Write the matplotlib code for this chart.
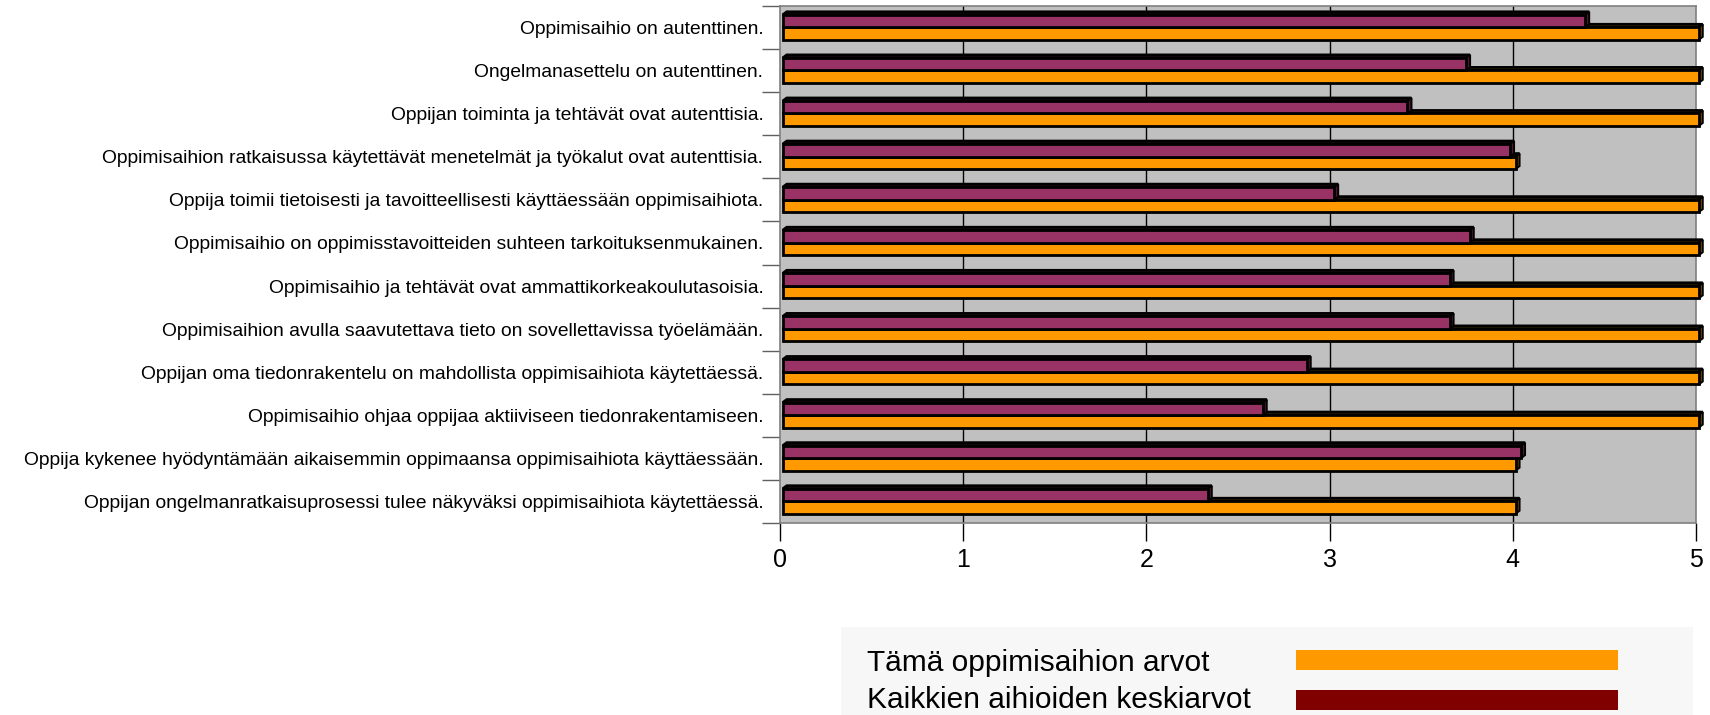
import matplotlib
matplotlib.use("Agg")
import matplotlib.pyplot as plt
from matplotlib.patches import Polygon, Rectangle
import numpy as np

plt.rcParams['font.family'] = ['Liberation Sans', 'DejaVu Sans']

categories = [
    "Oppimisaihio on autenttinen.",
    "Ongelmanasettelu on autenttinen.",
    "Oppijan toiminta ja tehtävät ovat autenttisia.",
    "Oppimisaihion ratkaisussa käytettävät menetelmät ja työkalut ovat autenttisia.",
    "Oppija toimii tietoisesti ja tavoitteellisesti käyttäessään oppimisaihiota.",
    "Oppimisaihio on oppimisstavoitteiden suhteen tarkoituksenmukainen.",
    "Oppimisaihio ja tehtävät ovat ammattikorkeakoulutasoisia.",
    "Oppimisaihion avulla saavutettava tieto on sovellettavissa työelämään.",
    "Oppijan oma tiedonrakentelu on mahdollista oppimisaihiota käytettäessä.",
    "Oppimisaihio ohjaa oppijaa aktiiviseen tiedonrakentamiseen.",
    "Oppija kykenee hyödyntämään aikaisemmin oppimaansa oppimisaihiota käyttäessään.",
    "Oppijan ongelmanratkaisuprosessi tulee näkyväksi oppimisaihiota käytettäessä.",
]
this_values = [5, 5, 5, 4, 5, 5, 5, 5, 5, 5, 4, 4]
avg_values = [4.38, 3.73, 3.41, 3.97, 3.01, 3.75, 3.64, 3.64, 2.86, 2.62, 4.03, 2.32]
series_names = ["Tämä oppimisaihion arvot", "Kaikkien aihioiden keskiarvot"]
x_ticks = [0, 1, 2, 3, 4, 5]

orange = "#FF9900"
purple = "#993366"
orange_dark = "#7F4C00"
purple_dark = "#4C1933"
legend_colors = ["#FF9900", "#800000"]

fig = plt.figure(figsize=(17.1, 7.15), dpi=100)
ax = fig.add_axes([780/1710, 1-523/715, (1696-780)/1710, (523-6)/715])
ax.set_facecolor("#C0C0C0")

n = len(categories)
ypos = np.arange(n)[::-1].astype(float)
h = 0.29
off_p = 0.15
off_o = -0.14
dx = 0.022
dy = 0.07
x0 = 0.015
LW = 2.0

for x in x_ticks[1:-1]:
    ax.axvline(x, color="black", lw=1.0, zorder=1)


def bar3d(y, v, color, dark, z):
    ax.barh([y], [v], height=h, left=x0, color=color, edgecolor="black", lw=LW,
            zorder=z, clip_on=False)
    xe = x0 + v
    yb, yt = y - h/2, y + h/2
    ax.add_patch(Polygon([(x0, yt), (xe, yt), (xe+dx, yt+dy), (x0+dx, yt+dy)], closed=True,
                         facecolor=dark, edgecolor="black", lw=LW, zorder=z-0.1, clip_on=False))
    ax.add_patch(Polygon([(xe, yb), (xe, yt), (xe+dx, yt+dy), (xe+dx, yb+dy)], closed=True,
                         facecolor=dark, edgecolor="black", lw=1.4, zorder=z-0.05, clip_on=False))

for y, v in zip(ypos, this_values):
    bar3d(y + off_o, v, orange, orange_dark, 3)
for y, v in zip(ypos, avg_values):
    bar3d(y + off_p, v, purple, purple_dark, 5)

ax.set_xlim(0, 5)
ax.set_ylim(-0.5, n - 0.5)
ax.set_xticks(x_ticks)
ax.set_xticklabels([str(t) for t in x_ticks], fontsize=18)
ax.tick_params(axis="x", length=13, width=1, color="black", pad=5)
ax.set_yticks(ypos)
ax.set_yticklabels(categories, fontsize=13.9)
ax.tick_params(axis="y", which="major", length=0, pad=12)
ax.set_yticks(np.arange(n + 1) - 0.5, minor=True)
ax.tick_params(axis="y", which="minor", length=13, width=1, color="#606060")
for s in ax.spines.values():
    s.set_color("#808080")
    s.set_linewidth(1.2)

# legend box
leg = Rectangle((841/1710, 0), (1693-841)/1710, (715-627)/715, transform=fig.transFigure,
                facecolor="#F7F7F7", edgecolor="none", zorder=0)
fig.patches.append(leg)
swatch_y = [1-660/715, 1-700/715]
text_shift = [-3/715, 0]
for name, col, ty, sh in zip(series_names, legend_colors, swatch_y, text_shift):
    fig.text(867/1710, ty + sh, name, fontsize=21.5, va="center", ha="left")
    fig.patches.append(Rectangle((1296/1710, ty - 10/715), (1618-1296)/1710, 20/715,
                                 transform=fig.transFigure, facecolor=col, edgecolor="none"))

fig.savefig("out.png", dpi=100)
